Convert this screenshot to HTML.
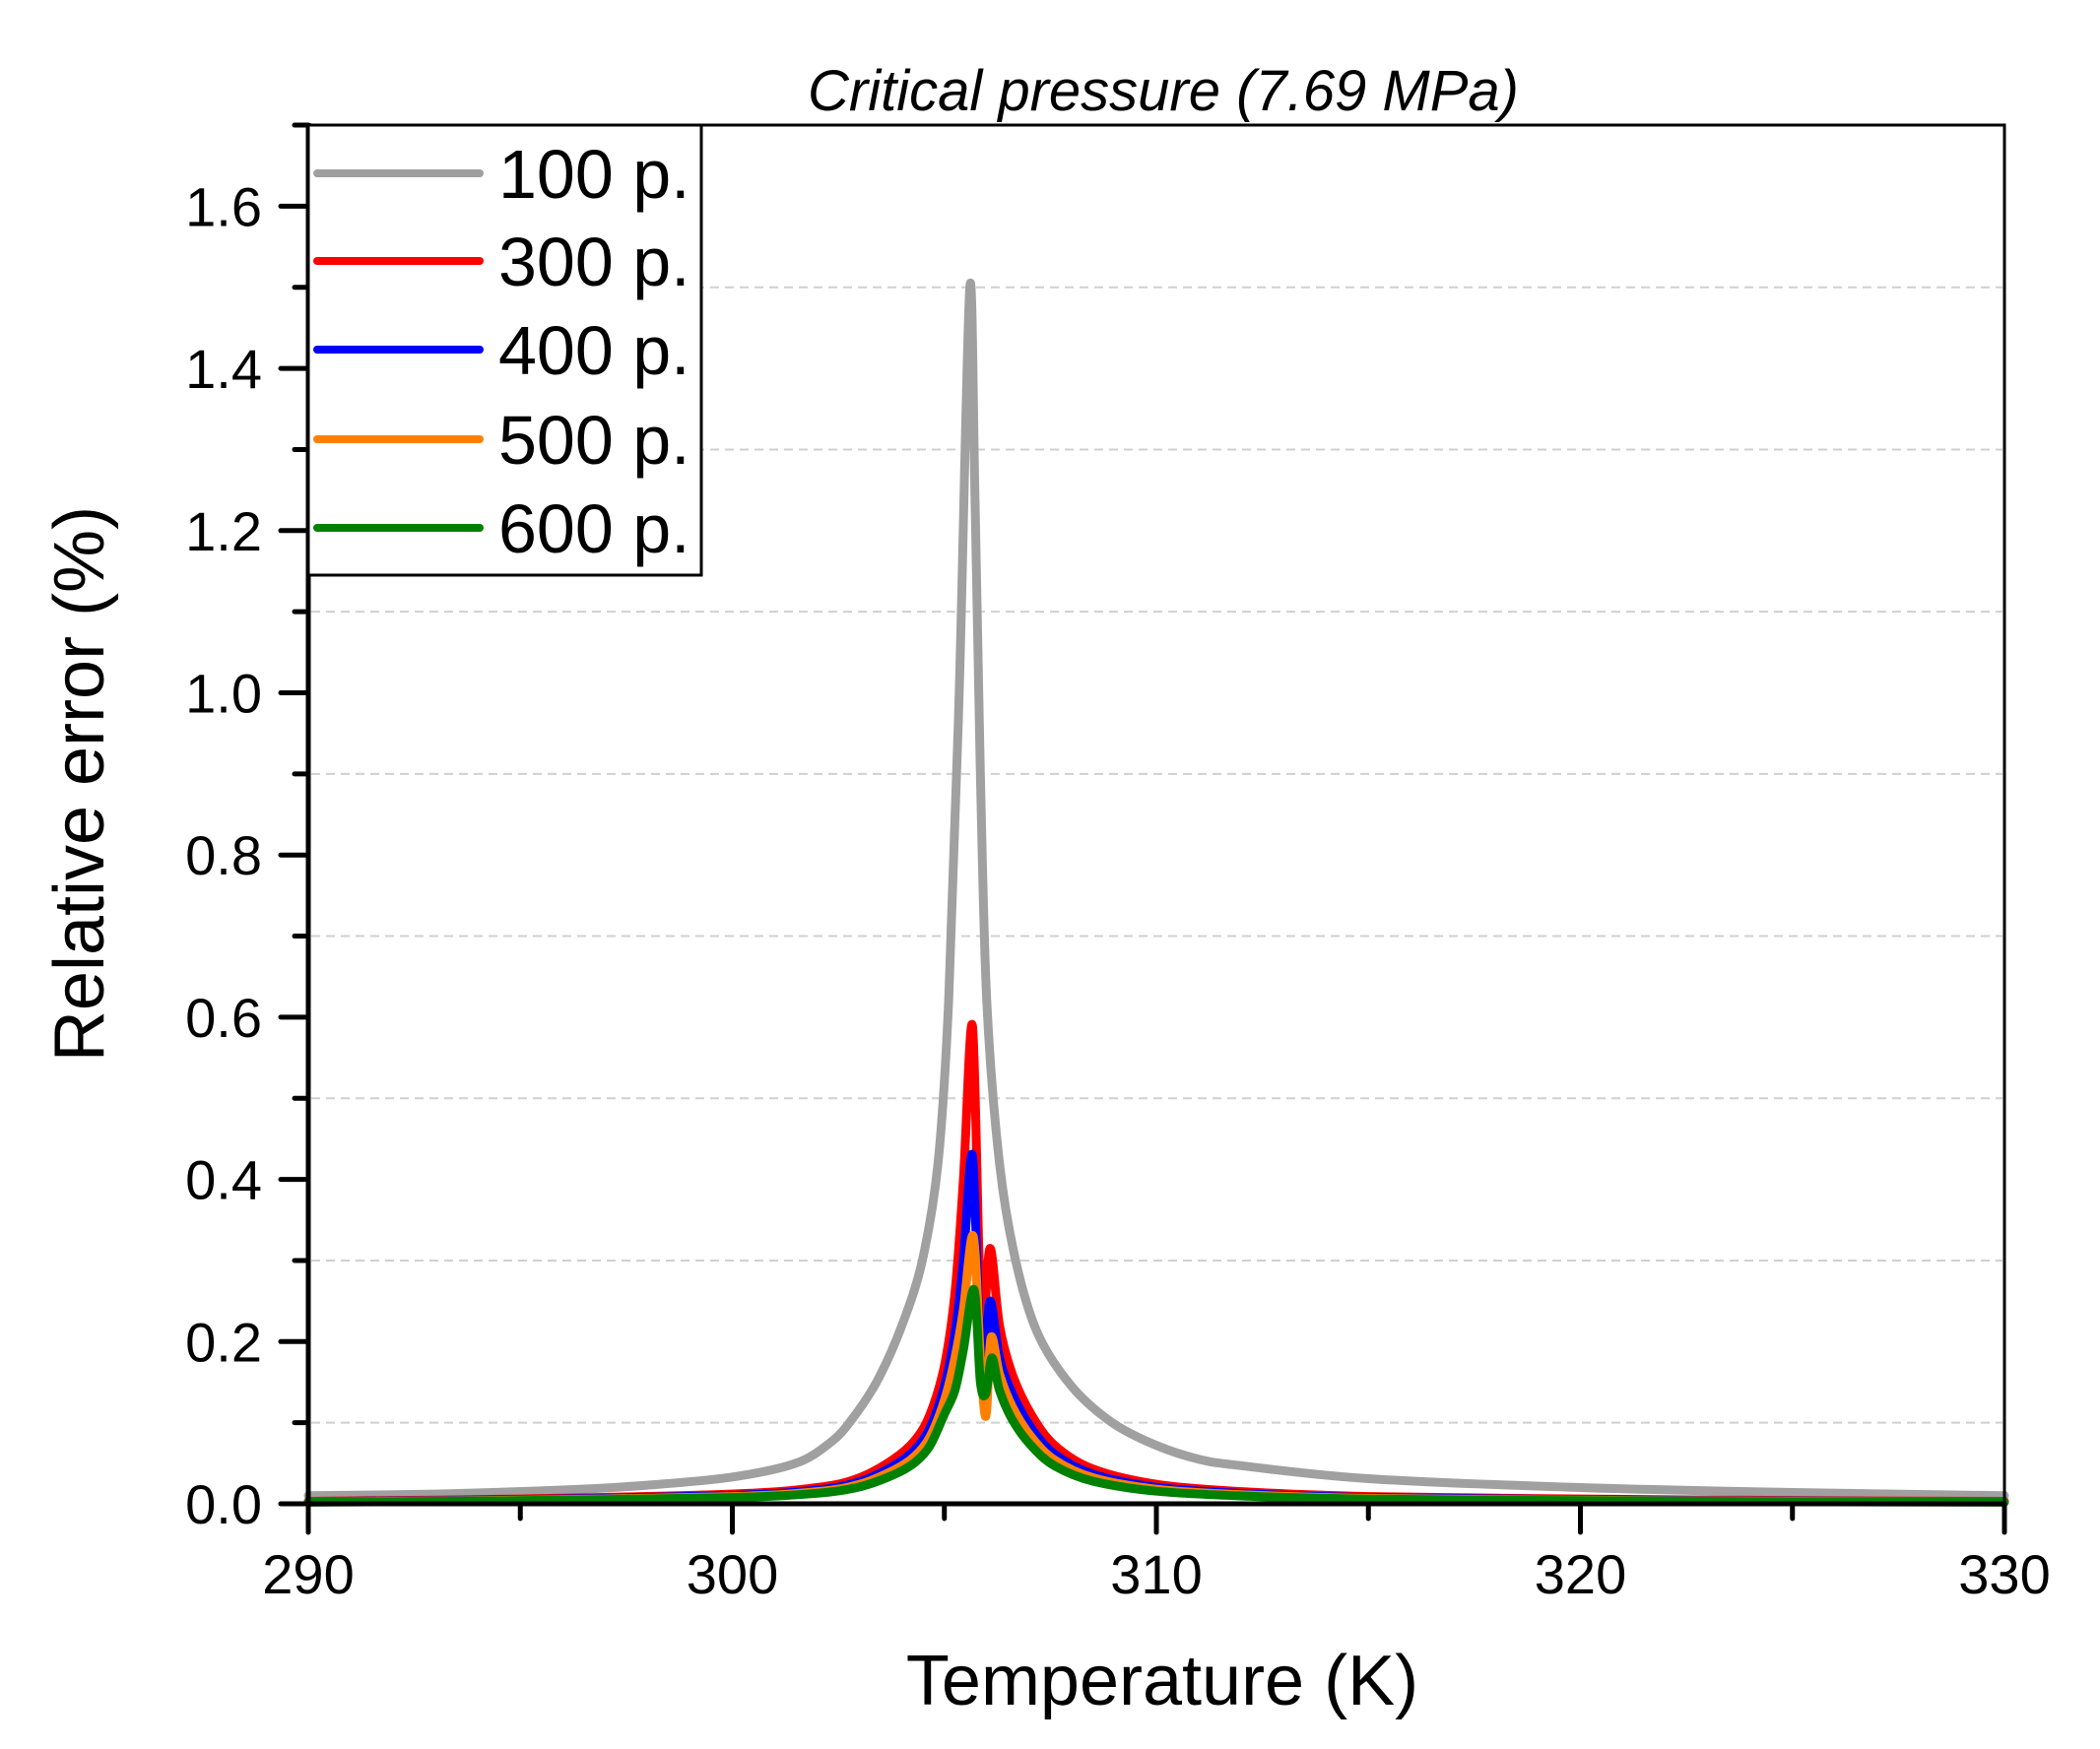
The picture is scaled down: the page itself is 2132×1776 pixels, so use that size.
<!DOCTYPE html>
<html><head><meta charset="utf-8"><style>
html,body{margin:0;padding:0;background:#fff;}
svg{display:block;font-family:"Liberation Sans",sans-serif;}
</style></head><body>
<svg id="s" width="2132" height="1776" viewBox="0 0 2132 1776" xmlns="http://www.w3.org/2000/svg">
<rect width="2132" height="1776" fill="#fff"/>
<g id="grid" stroke="#d0d0d0" stroke-width="2" stroke-dasharray="9,6"></g>
<g id="curves" fill="none" stroke-width="9" stroke-linejoin="round" stroke-linecap="round"></g>
<rect x="313" y="127" width="1722" height="1400" fill="none" stroke="#000" stroke-width="3"/>
<line x1="313" y1="125" x2="313" y2="1556" stroke="#000" stroke-width="5"/>
<line x1="311" y1="1527" x2="2035" y2="1527" stroke="#000" stroke-width="5"/>
<g id="ticks" stroke="#000" stroke-width="5" stroke-linecap="round"></g>
<g id="labels" font-size="56" fill="#000"></g>
<text x="1181" y="112" font-size="58" font-style="italic" text-anchor="middle">Critical pressure (7.69 MPa)</text>
<text x="1180" y="1731" font-size="72" text-anchor="middle">Temperature (K)</text>
<text transform="translate(105,796) rotate(-90)" font-size="72" text-anchor="middle">Relative error (%)</text>
<rect x="313" y="127" width="399" height="457" fill="#fff" stroke="#000" stroke-width="3"/>
<g id="legend" stroke-width="8" stroke-linecap="round" font-size="70"></g>
</svg>
<script>
var NS="http://www.w3.org/2000/svg";
function X(t){return 313+(t-290)*43.05;}
function Y(v){return 1527-v*823.5;}
function el(p,n,a,txt){var e=document.createElementNS(NS,n);for(var k in a)e.setAttribute(k,a[k]);if(txt!==undefined)e.textContent=txt;document.getElementById(p).appendChild(e);return e;}
for(var v=0.1;v<1.7;v+=0.2){el("grid","line",{x1:316,x2:2033,y1:Y(v),y2:Y(v)});}
for(var i=0;i<=17;i++){var v=i*0.1,y=Y(v);el("ticks","line",{x1:(i%2==0?285:299),x2:313,y1:y,y2:y});
 if(i%2==0)el("labels","text",{x:266,y:y+20,"text-anchor":"end"},v.toFixed(1));}
for(var t=290;t<=330;t+=5){var x=X(t);el("ticks","line",{x1:x,x2:x,y1:1527,y2:(t%10==0?1556:1542)});
 if(t%10==0)el("labels","text",{x:x,y:1618,"text-anchor":"middle"},t);}
function path(pts,col){pts.sort(function(a,b){return a[0]-b[0];});
 var P=pts.map(function(p){return [X(p[0]),Y(p[1])];});
 var d="M"+P[0][0].toFixed(1)+","+P[0][1].toFixed(1);
 for(var i=0;i<P.length-1;i++){var p0=P[i?i-1:0],p1=P[i],p2=P[i+1],p3=P[i+2<P.length?i+2:i+1];
  var s=0.16;
  var c1=[p1[0]+(p2[0]-p0[0])*s,p1[1]+(p2[1]-p0[1])*s],c2=[p2[0]-(p3[0]-p1[0])*s,p2[1]-(p3[1]-p1[1])*s];
  c1[0]=Math.min(Math.max(c1[0],p1[0]),p2[0]);c2[0]=Math.min(Math.max(c2[0],p1[0]),p2[0]);
  d+="C"+c1[0].toFixed(1)+","+c1[1].toFixed(1)+" "+c2[0].toFixed(1)+","+c2[1].toFixed(1)+" "+p2[0].toFixed(1)+","+p2[1].toFixed(1);}
 el("curves","path",{d:d,stroke:col});}
var gray=[[290,.01],[293,.012],[296,.017],[298,.023],[300,.033],[301.5,.05],[302.3,.075],[302.76,.1],[303.4,.15],[304,.22],[304.48,.3],[304.85,.42],[305.1,.62],[305.35,1.0],[305.6,1.5],[305.72,1.25],[305.85,.9],[306.0,.62],[306.3,.42],[306.68,.3],[307.2,.21],[308,.145],[308.96,.1],[310,.072],[311,.055],[312,.047],[315,.031],[320,.02],[325,.014],[330,.01]];
path(gray,"#a0a0a0");
function base(f){return [[290,.003*f],[295,.006*f],[300,.012*f],[302,.02*f],[303,.032*f],[303.8,.055*f],[304.3,.078*f],[304.66,.11*f],[305.0,.17*f],[306.6,.16*f],[307.05,.11*f],[307.6,.072*f],[308.5,.043*f],[310,.024*f],[312,.015*f],[315,.009*f],[320,.006*f],[325,.004*f],[330,.003*f]];}
var red=base(1).concat([[305.25,.26],[305.45,.4],[305.66,.59],[305.82,.3],[305.92,.22],[306.08,.315],[306.3,.22]]);
path(red,"#ff0000");
var blue=base(.85).concat([[305.25,.21],[305.45,.3],[305.66,.43],[305.82,.22],[305.94,.17],[306.08,.25],[306.3,.18]]);
path(blue,"#0000ff");
var orange=base(.75).concat([[305.25,.18],[305.45,.24],[305.68,.33],[305.85,.18],[305.98,.108],[306.1,.205],[306.3,.16]]);
path(orange,"#ff8000");
var green=base(.65).concat([[305.25,.14],[305.45,.19],[305.7,.264],[305.85,.15],[305.98,.136],[306.12,.18],[306.3,.14]]);
path(green,"#008000");
var L=[["100 p.","#a0a0a0",176],["300 p.","#ff0000",265],["400 p.","#0000ff",355],["500 p.","#ff8000",446],["600 p.","#008000",536]];
L.forEach(function(l){el("legend","line",{x1:322,x2:487,y1:l[2],y2:l[2],stroke:l[1]});
 el("legend","text",{x:506,y:l[2]+25,fill:"#000",stroke:"none"},l[0]);});
</script>
</body></html>
